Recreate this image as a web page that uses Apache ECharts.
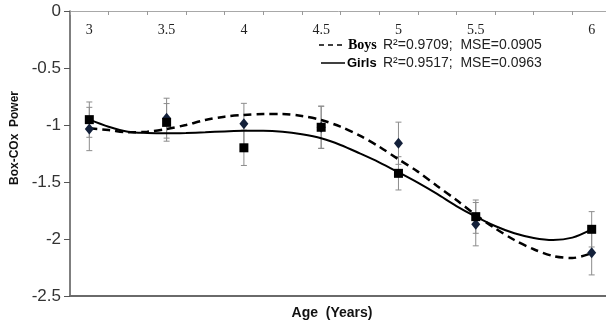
<!DOCTYPE html>
<html><head><meta charset="utf-8">
<script src="https://cdn.jsdelivr.net/npm/echarts@6/dist/echarts.min.js"></script>
<style>html,body{margin:0;padding:0;background:#fff}#c{width:606px;height:324px}</style>
</head><body><div id="c"></div>
<script>
// Slots along the (top) age axis, as labelled in the chart (one slot per label position)
const tickLabels = ['3','','3.5','','4','','4.5','','5','','5.5','','','6'];
// Observed points
const pointAges = ['3','3.5','4','4.5','5','5.5','6'];
const boysMean  = [-1.035, -0.94, -0.99, -1.02, -1.16, -1.87, -2.12];
const boysErr   = [0.19, 0.175, 0.18, 0.185, 0.185, 0.19, 0.195];
const girlsMean = [-0.953, -0.977, -1.20, -1.02, -1.424, -1.804, -1.915];
const girlsErr  = [0.155, 0.165, 0.155, 0.185, 0.146, 0.146, 0.155];
// Fitted curves at every half slot
const curveSlots = [0,0.5,1,1.5,2,2.5,3,3.5,4,4.5,5,5.5,6,6.5,7,7.5,8,8.5,9,9.5,10,10.5,11,11.5,12,12.5,13];
const boysFit  = [-1.029,-1.044,-1.064,-1.059,-1.035,-1.0,-0.956,-0.927,-0.912,-0.904,-0.904,-0.921,-0.956,-1.015,-1.094,-1.19,-1.301,-1.409,-1.535,-1.658,-1.789,-1.906,-2.009,-2.09,-2.149,-2.167,-2.125];
const girlsFit = [-0.953,-1.015,-1.059,-1.070,-1.073,-1.070,-1.064,-1.056,-1.050,-1.050,-1.059,-1.082,-1.117,-1.175,-1.249,-1.327,-1.415,-1.506,-1.605,-1.711,-1.804,-1.886,-1.950,-1.991,-2.009,-1.988,-1.915];
const yTicks = {min:-2.5, max:0, step:0.5};
const xRange = {min:-0.5, max:13.5};

const slot = a => tickLabels.indexOf(a);
const pts = (m) => pointAges.map((a,i)=>[slot(a), m[i]]);
const errs = (m,e) => pointAges.map((a,i)=>[slot(a), m[i]-e[i], m[i]+e[i]]);
const curve = (f) => curveSlots.map((s,i)=>[s, f[i]]);

function errRender(params, api){
  const x = api.value(0), lo = api.value(1), hi = api.value(2);
  const p1 = api.coord([x, hi]), p2 = api.coord([x, lo]);
  const w = 3;
  const style = {stroke:'#8c8c8c', lineWidth:1};
  return {type:'group', children:[
    {type:'line', shape:{x1:p1[0],y1:p1[1],x2:p2[0],y2:p2[1]}, style},
    {type:'line', shape:{x1:p1[0]-w,y1:p1[1],x2:p1[0]+w,y2:p1[1]}, style},
    {type:'line', shape:{x1:p2[0]-w,y1:p2[1],x2:p2[0]+w,y2:p2[1]}, style}
  ]};
}

const chart = echarts.init(document.getElementById('c'), null, {renderer:'canvas'});
chart.setOption({
  animation:false,
  backgroundColor:'#fff',
  grid:{left:70, top:11, width:541, height:285, outerBoundsMode:'none', containLabel:false},
  xAxis:[{
    // tick marks at slot boundaries
    type:'value', position:'top', min:xRange.min, max:xRange.max, interval:1,
    axisLine:{onZero:false, lineStyle:{color:'#a8a8a8', width:1}},
    axisTick:{show:true, inside:true, length:4, lineStyle:{color:'#999'}},
    axisLabel:{show:false}, splitLine:{show:false}
  },{
    // labels at slot centres
    type:'value', position:'top', min:xRange.min, max:xRange.max, interval:0.5,
    axisLine:{show:false, onZero:false}, axisTick:{show:false}, splitLine:{show:false},
    axisLabel:{inside:true, margin:12, fontFamily:'Liberation Serif', fontSize:14, color:'#222',
      formatter:v => Number.isInteger(v) && v >= 0 && v < tickLabels.length ? tickLabels[v] : ''}
  },{
    type:'value', position:'bottom', min:xRange.min, max:xRange.max,
    axisLine:{onZero:false, lineStyle:{color:'#6a6a6a', width:2}},
    axisTick:{show:false}, axisLabel:{show:false}, splitLine:{show:false}
  }],
  yAxis:{
    type:'value', min:yTicks.min, max:yTicks.max, interval:yTicks.step,
    axisLine:{show:true, onZero:false, lineStyle:{color:'#555', width:1.5}},
    axisTick:{show:true, length:6, lineStyle:{color:'#555'}},
    axisLabel:{margin:9, fontFamily:'Liberation Sans', fontSize:17, color:'#333'},
    splitLine:{show:false}
  },
  series:[
    {type:'custom', renderItem:errRender, data:errs(boysMean,boysErr), encode:{x:0,y:[1,2]}, z:1},
    {type:'custom', renderItem:errRender, data:errs(girlsMean,girlsErr), encode:{x:0,y:[1,2]}, z:1},
    {type:'line', data:curve(boysFit), smooth:0.3, showSymbol:false, lineStyle:{color:'#000', width:2.5, type:[8,5]}, z:2},
    {type:'line', data:curve(girlsFit), smooth:0.3, showSymbol:false, lineStyle:{color:'#000', width:2}, z:2},
    {type:'scatter', data:pts(boysMean), symbol:'diamond', symbolSize:[9,11], itemStyle:{color:'#13203a', opacity:1}, z:3},
    {type:'scatter', data:pts(girlsMean), symbol:'rect', symbolSize:9, itemStyle:{color:'#000', opacity:1}, z:4}
  ],
  graphic:[
    {type:'text', rotation:Math.PI/2, x:15, y:138, style:{text:'Box-COx  Power', font:'bold 12px "Liberation Sans"', fill:'#111', align:'center', verticalAlign:'middle'}},
    {type:'text', x:332, y:313, style:{text:'Age  (Years)', font:'bold 14px "Liberation Sans"', fill:'#111', align:'center', verticalAlign:'middle'}},
    {type:'line', shape:{x1:319,y1:45,x2:345,y2:45}, style:{stroke:'#000', lineWidth:1.5, lineDash:[5,4]}},
    {type:'text', x:348, y:45, style:{text:'Boys', font:'bold 14px "Liberation Serif"', fill:'#000', verticalAlign:'middle'}},
    {type:'text', x:383, y:45, style:{text:'R²=0.9709;  MSE=0.0905', font:'14px "Liberation Sans"', fill:'#222', verticalAlign:'middle'}},
    {type:'line', shape:{x1:321,y1:63,x2:345,y2:63}, style:{stroke:'#000', lineWidth:1.5}},
    {type:'text', x:347, y:63, style:{text:'Girls', font:'bold 13px "Liberation Sans"', fill:'#000', verticalAlign:'middle'}},
    {type:'text', x:383, y:63, style:{text:'R²=0.9517;  MSE=0.0963', font:'14px "Liberation Sans"', fill:'#222', verticalAlign:'middle'}}
  ]
});
</script></body></html>
